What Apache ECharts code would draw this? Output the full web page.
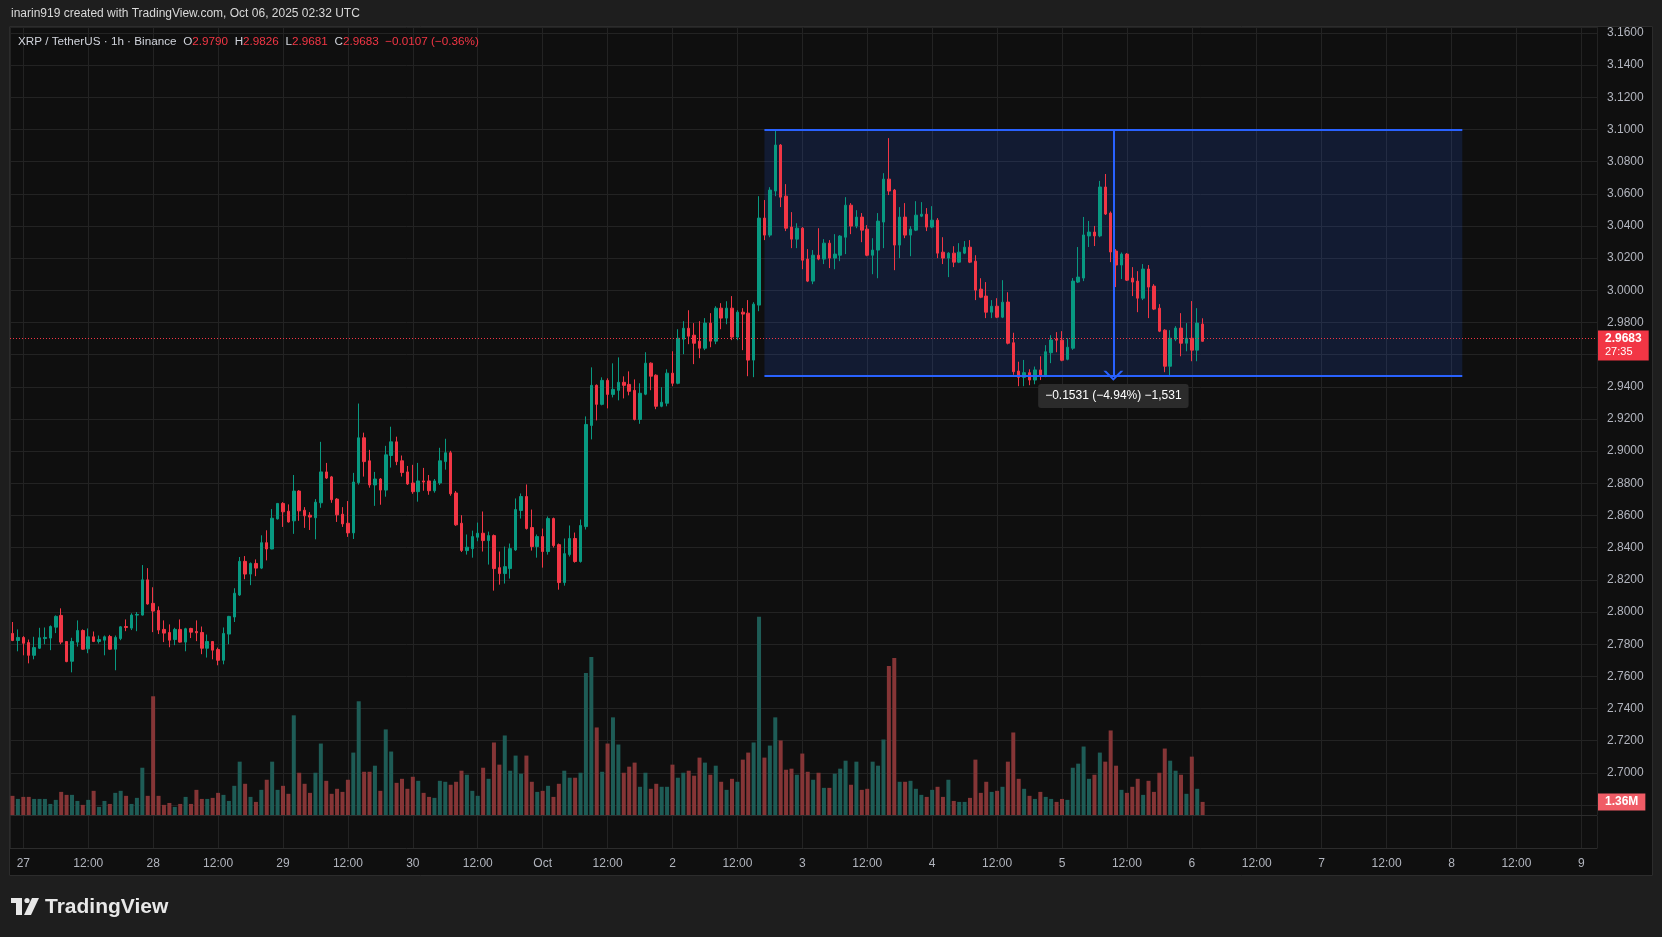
<!DOCTYPE html>
<html>
<head>
<meta charset="utf-8">
<script src="https://cdn.jsdelivr.net/npm/echarts@6/dist/echarts.min.js"></script>
<style>
html,body{margin:0;padding:0;background:#1e1e1e;}
#chart{width:1662px;height:937px;}
</style>
</head>
<body>
<div id="chart"></div>
<script>
// ---------- DATA (XRP/USDT 1h, Binance) ----------
// hour index 0 = Sep 27 00:00 UTC; first candle is hour -2
const firstHour = -2;
const opens = [
2.7867,2.7823,2.7842,2.7810,2.7731,2.7775,2.7835,2.7838,2.7906,2.7979,2.7817,2.7694,
2.7813,2.7885,2.7771,2.7846,2.7817,2.7825,2.7848,2.7769,2.7835,2.7910,
2.7900,2.7981,2.7981,2.8200,2.8054,2.8010,2.7892,2.7873,2.7829,2.7892,
2.7813,2.7898,2.7879,2.7873,2.7775,2.7817,2.7767,2.7700,2.7863,2.7969,
2.8106,2.8315,2.8236,2.8302,2.8273,2.8431,2.8392,2.8579,2.8675,2.8627,
2.8567,2.8752,2.8633,2.8602,2.8586,2.8679,2.8871,2.8840,2.8702,2.8608,
2.8552,2.8492,2.8804,2.9083,2.8940,2.8790,2.8827,2.8758,2.8973,2.9058,
2.8940,2.8871,2.8802,2.8748,2.8815,2.8815,2.8754,2.8802,2.8935,2.8990,
2.8740,2.8552,2.8382,2.8394,2.8465,2.8490,2.8444,2.8475,2.8276,2.8239,
2.8270,2.8386,2.8631,2.8718,2.8525,2.8407,2.8469,2.8376,2.8581,2.8419,
2.8183,2.8357,2.8457,2.8314,2.8531,2.9160,2.9409,2.9291,2.9440,2.9353,
2.9378,2.9428,2.9415,2.9378,2.9197,2.9354,2.9547,2.9472,2.9279,2.9298,
2.9485,2.9422,2.9696,2.9764,2.9721,2.9684,2.9640,2.9796,2.9684,2.9889,
2.9827,2.9889,2.9709,2.9864,2.9858,2.9566,2.9908,3.0449,3.0343,3.0617,
3.0903,3.0585,3.0393,3.0318,3.0386,3.0194,3.0057,3.0218,3.0194,3.0293,
3.0200,3.0218,3.0330,3.0529,3.0399,3.0455,3.0380,3.0218,3.0250,3.0424,
3.0691,3.0623,3.0281,3.0455,3.0343,3.0374,3.0461,3.0473,3.0393,3.0436,
3.0237,3.0200,3.0231,3.0175,3.0231,3.0268,3.0181,3.0007,2.9964,2.9864,
2.9901,2.9833,2.9927,2.9674,2.9498,2.9459,2.9488,2.9442,2.9505,2.9467,
2.9612,2.9696,2.9690,2.9571,2.9640,3.0051,3.0076,3.0338,3.0362,3.0338,
3.0642,3.0480,3.0244,3.0157,3.0225,3.0076,3.0057,2.9951,3.0132,3.0026,
2.9889,2.9752,2.9528,2.9696,2.9765,2.9671,2.9702,2.9628,2.9790
];
const closes = [
2.7823,2.7842,2.7806,2.7731,2.7779,2.7840,2.7842,2.7910,2.7973,2.7813,2.7692,2.7817,
2.7885,2.7769,2.7846,2.7817,2.7829,2.7846,2.7769,2.7842,2.7908,2.7904,
2.7981,2.7985,2.8200,2.8050,2.8006,2.7888,2.7869,2.7825,2.7892,2.7813,
2.7896,2.7875,2.7871,2.7775,2.7817,2.7763,2.7700,2.7867,2.7973,2.8117,
2.8315,2.8236,2.8302,2.8273,2.8431,2.8392,2.8583,2.8675,2.8623,2.8560,
2.8752,2.8629,2.8598,2.8590,2.8683,2.8871,2.8833,2.8698,2.8604,2.8548,
2.8492,2.8808,2.9083,2.8935,2.8790,2.8827,2.8758,2.8977,2.9058,2.8935,
2.8867,2.8796,2.8748,2.8815,2.8808,2.8754,2.8815,2.8940,2.8990,2.8735,
2.8542,2.8383,2.8403,2.8469,2.8490,2.8444,2.8475,2.8270,2.8239,2.8282,
2.8394,2.8637,2.8718,2.8519,2.8407,2.8469,2.8376,2.8581,2.8413,2.8183,
2.8363,2.8457,2.8314,2.8538,2.9166,2.9409,2.9291,2.9440,2.9353,2.9384,
2.9428,2.9409,2.9372,2.9197,2.9360,2.9547,2.9466,2.9279,2.9304,2.9485,
2.9422,2.9702,2.9764,2.9715,2.9671,2.9640,2.9796,2.9684,2.9889,2.9827,
2.9889,2.9709,2.9864,2.9852,2.9566,2.9914,3.0449,3.0343,3.0623,3.0903,
3.0579,3.0386,3.0318,3.0386,3.0187,3.0057,3.0218,3.0194,3.0293,3.0200,
3.0225,3.0337,3.0529,3.0399,3.0455,3.0374,3.0218,3.0250,3.0430,3.0691,
3.0617,3.0281,3.0455,3.0343,3.0380,3.0467,3.0473,3.0393,3.0436,3.0231,
3.0200,3.0231,3.0175,3.0237,3.0268,3.0175,3.0001,2.9957,2.9864,2.9901,
2.9833,2.9926,2.9671,2.9494,2.9459,2.9488,2.9442,2.9505,2.9467,2.9618,
2.9691,2.9690,2.9565,2.9646,3.0057,3.0082,3.0344,3.0362,3.0338,3.0642,
3.0474,3.0238,3.0157,3.0225,3.0063,3.0051,2.9951,3.0132,3.0020,2.9883,
2.9746,2.9528,2.9702,2.9765,2.9671,2.9702,2.9628,2.9796,2.9683
];
const lows = [
2.7819,2.7756,2.7731,2.7681,2.7706,2.7770,2.7800,2.7763,2.7869,2.7800,2.7688,2.7625,
2.7785,2.7765,2.7744,2.7813,2.7804,2.7731,2.7765,2.7638,2.7825,2.7881,
2.7888,2.7881,2.7978,2.8046,2.7875,2.7863,2.7813,2.7781,2.7794,2.7810,
2.7756,2.7838,2.7819,2.7738,2.7717,2.7706,2.7669,2.7675,2.7800,2.7938,
2.8100,2.8204,2.8167,2.8223,2.8267,2.8321,2.8390,2.8575,2.8529,2.8556,
2.8486,2.8567,2.8523,2.8510,2.8452,2.8648,2.8827,2.8679,2.8560,2.8529,
2.8467,2.8454,2.8792,2.8842,2.8773,2.8660,2.8667,2.8717,2.8898,2.8913,
2.8842,2.8790,2.8735,2.8686,2.8754,2.8729,2.8742,2.8790,2.8885,2.8723,
2.8536,2.8373,2.8357,2.8338,2.8440,2.8376,2.8295,2.8133,2.8170,2.8177,
2.8208,2.8380,2.8581,2.8513,2.8382,2.8338,2.8276,2.8357,2.8401,2.8139,
2.8164,2.8345,2.8307,2.8307,2.8513,2.9073,2.9191,2.9285,2.9266,2.9334,
2.9316,2.9328,2.9347,2.9191,2.9170,2.9348,2.9379,2.9261,2.9273,2.9279,
2.9404,2.9416,2.9603,2.9665,2.9541,2.9578,2.9628,2.9646,2.9665,2.9758,
2.9789,2.9690,2.9690,2.9628,2.9466,2.9460,2.9870,3.0312,3.0330,3.0585,
3.0517,3.0368,3.0262,3.0262,3.0131,3.0051,3.0038,3.0187,3.0163,3.0138,
3.0131,3.0181,3.0225,3.0349,3.0386,3.0299,3.0212,3.0100,3.0075,3.0262,
3.0592,3.0125,3.0200,3.0324,3.0212,3.0368,3.0455,3.0368,3.0386,3.0200,
3.0163,3.0082,3.0144,3.0169,3.0225,3.0169,2.9939,2.9951,2.9827,2.9827,
2.9827,2.9827,2.9664,2.9475,2.9404,2.9404,2.9410,2.9416,2.9442,2.9460,
2.9547,2.9615,2.9559,2.9565,2.9630,3.0045,3.0057,3.0269,3.0275,3.0330,
3.0468,3.0175,3.0020,3.0070,3.0058,2.9964,2.9864,2.9939,2.9827,2.9877,
2.9740,2.9491,2.9472,2.9684,2.9590,2.9621,2.9559,2.9559,2.9681
];
const highs = [
2.7938,2.7892,2.7850,2.7829,2.7846,2.7902,2.7904,2.7917,2.7979,2.8023,2.7820,2.7840,
2.7948,2.7892,2.7898,2.7879,2.7854,2.7854,2.7858,2.7854,2.7913,2.7954,
2.7992,2.8000,2.8292,2.8273,2.8154,2.8035,2.7948,2.7923,2.7902,2.7954,
2.7902,2.7902,2.7948,2.7910,2.7860,2.7820,2.7779,2.7904,2.7976,2.8148,
2.8342,2.8348,2.8308,2.8327,2.8477,2.8508,2.8640,2.8678,2.8683,2.8669,
2.8852,2.8758,2.8652,2.8621,2.8702,2.9058,2.8927,2.8846,2.8708,2.8652,
2.8690,2.8865,2.9296,2.9115,2.9008,2.8871,2.8833,2.9033,2.9152,2.9090,
2.8973,2.8908,2.8915,2.8927,2.8896,2.8852,2.8827,2.9021,2.9077,2.9002,
2.8752,2.8602,2.8482,2.8506,2.8556,2.8625,2.8500,2.8482,2.8376,2.8407,
2.8426,2.8706,2.8737,2.8793,2.8637,2.8482,2.8519,2.8594,2.8587,2.8426,
2.8457,2.8538,2.8494,2.8575,2.9216,2.9521,2.9415,2.9459,2.9453,2.9546,
2.9583,2.9465,2.9496,2.9446,2.9422,2.9615,2.9552,2.9478,2.9398,2.9509,
2.9621,2.9758,2.9808,2.9876,2.9796,2.9808,2.9827,2.9858,2.9901,2.9920,
2.9932,2.9964,2.9876,2.9889,2.9939,2.9926,3.0585,3.0561,3.0641,3.0996,
3.0909,3.0660,3.0486,3.0417,3.0393,3.0256,3.0250,3.0386,3.0318,3.0312,
3.0349,3.0343,3.0579,3.0542,3.0498,3.0480,3.0405,3.0324,3.0480,3.0728,
3.0946,3.0630,3.0517,3.0542,3.0399,3.0554,3.0548,3.0511,3.0523,3.0449,
3.0330,3.0237,3.0274,3.0293,3.0306,3.0312,3.0218,3.0075,3.0051,2.9939,
2.9951,3.0063,2.9988,2.9736,2.9556,2.9567,2.9509,2.9526,2.9590,2.9659,
2.9721,2.9740,2.9746,2.9702,3.0076,3.0269,3.0456,3.0431,3.0400,3.0680,
3.0723,3.0490,3.0256,3.0235,3.0232,3.0144,3.0119,3.0163,3.0157,3.0038,
2.9914,2.9758,2.9752,2.9777,2.9858,2.9796,2.9933,2.9889,2.9826
];
// volume in millions of XRP
const volumesM = [
1.99,1.67,1.88,1.88,1.67,1.67,1.67,1.15,1.57,2.40,2.09,2.09,
1.46,1.05,1.57,2.51,0.84,1.46,1.15,2.30,2.51,1.99,
1.15,1.78,4.91,1.99,12.33,1.99,1.05,1.25,0.84,1.15,
1.88,1.15,2.61,1.67,1.67,1.78,2.30,2.09,1.46,3.03,
5.54,3.24,1.88,1.36,2.61,3.66,5.54,2.61,3.03,2.20,
10.35,4.39,3.24,2.30,4.39,7.42,3.55,2.20,2.72,2.40,
3.66,6.48,11.81,4.49,4.49,5.12,2.51,8.89,6.59,3.34,
3.76,2.72,3.97,3.55,2.30,1.88,1.78,3.55,3.45,3.14,
3.45,4.60,4.18,2.51,1.99,4.91,3.76,7.53,5.23,8.26,
4.60,6.17,4.29,6.17,3.45,2.40,2.51,3.03,1.88,3.24,
4.60,3.87,3.87,4.39,14.74,16.41,9.09,4.49,7.42,10.14,
7.32,4.39,5.02,5.44,2.93,4.39,2.72,3.24,2.93,2.93,
5.23,3.87,4.39,4.60,4.08,5.96,5.44,4.18,5.12,3.45,
2.61,3.76,3.45,5.75,6.48,7.53,20.59,5.96,7.21,10.14,
7.74,4.70,4.81,4.18,6.38,4.49,3.66,4.39,2.82,2.82,
4.29,4.81,5.64,3.14,5.54,2.61,2.72,5.54,5.12,7.84,
15.47,16.31,3.45,3.45,3.55,2.72,2.09,1.88,2.61,2.93,
1.88,3.66,1.46,1.36,1.36,1.78,5.75,2.30,3.45,2.40,
2.51,2.93,5.54,8.57,3.76,2.72,1.99,1.67,2.40,1.88,
1.67,1.36,1.67,1.57,4.91,5.33,7.11,3.76,4.18,6.48,
5.54,8.78,5.12,2.61,2.30,2.93,3.76,2.09,3.55,2.40,
4.39,6.90,5.64,4.60,4.18,2.20,6.06,2.72,1.36
];
const dayLabels = ['27','28','29','30','Oct','2','3','4','5','6','7','8','9'];
const halfDayLabel = '12:00';
const lowestPriceLabel = 2.70;
const countdown = '27:35';
const headerText = 'inarin919 created with TradingView.com, Oct 06, 2025 02:32 UTC';
const symbolText = 'XRP / TetherUS \u00b7 1h \u00b7 Binance';
const changeText = '\u22120.0107 (\u22120.36%)';
// price range drawing
const rangeTop = 3.1000;
const rangeBottom = 2.9469;
const rangeStartHour = 137;
const rangeEndHour = 266;
const rangeArrowHour = 201.5;
const rangeLabelPrice = 2.9343;
const rangeLabel = '\u22120.1531 (\u22124.94%) \u22121,531';

// ---------- BUILD ----------
const FONT = "'Liberation Sans', Arial, sans-serif";
const UP = '#089981', DOWN = '#f23645';
const UP_VOL = '#1e5c56', DOWN_VOL = '#853536';
const GRIDLINE = '#232323';
const BLUE = '#2962ff';
const n = opens.length;
const last = n - 1;
const candleData = opens.map((o, i) => [firstHour + i, o, closes[i], lows[i], highs[i]]);
const volumeData = volumesM.map((v, i) => ({
  value: [firstHour + i, v],
  itemStyle: { color: closes[i] >= opens[i] ? UP_VOL : DOWN_VOL }
}));
const lastUp = closes[last] >= opens[last];

const X_MIN = -2.46, X_MAX = 290.9;
const P_MIN = 2.67383, P_MAX = 3.16367;
const VOL_MAX = 81.83;

function timeLabel(v) {
  const r = Math.round(v);
  if (Math.abs(v - r) > 1e-6) return '';
  if (r % 24 === 0) return dayLabels[Math.round(r / 24)] || '';
  if (r % 12 === 0) return halfDayLabel;
  return '';
}
function priceLabel(v) {
  const r = Math.round(v / 0.02) * 0.02;
  if (Math.abs(v - r) > 1e-6) return '';
  if (r < lowestPriceLabel - 1e-6) return '';
  return r.toFixed(4);
}
const blueLine = { color: BLUE, width: 2, type: 'solid' };
const chevron = 'path://M0,10 L10,0 L20,10 L17.2,10 L10,2.8 L2.8,10 Z';

const option = {
  backgroundColor: '#0f0f0f',
  animation: false,
  textStyle: { fontFamily: FONT },
  grid: [
    { left: 10, right: 65, top: 27, bottom: 122, outerBoundsMode: 'none', containLabel: false },
    { left: 10, right: 65, top: 816, bottom: 89, outerBoundsMode: 'none', containLabel: false }
  ],
  xAxis: [
    { gridIndex: 0, type: 'value', min: X_MIN, max: X_MAX, minInterval: 12, maxInterval: 12,
      axisLine: { show: true, onZero: false, lineStyle: { color: '#2c2c2c', width: 1 } },
      axisTick: { show: false }, axisLabel: { show: false },
      splitLine: { show: true, lineStyle: { color: GRIDLINE, width: 1 } } },
    { gridIndex: 1, type: 'value', min: X_MIN, max: X_MAX, minInterval: 12, maxInterval: 12,
      axisLine: { show: true, onZero: false, lineStyle: { color: '#2c2c2c', width: 1 } },
      axisTick: { show: false },
      axisLabel: { show: true, formatter: timeLabel, color: '#b2b5be', fontSize: 12, margin: 10, fontFamily: FONT,
                   showMinLabel: true, showMaxLabel: true },
      splitLine: { show: true, lineStyle: { color: GRIDLINE, width: 1 } } }
  ],
  yAxis: [
    { gridIndex: 0, type: 'value', position: 'right', min: P_MIN, max: P_MAX, scale: true,
      minInterval: 0.02, maxInterval: 0.02, splitNumber: 25,
      axisLine: { show: false }, axisTick: { show: false },
      axisLabel: { show: true, formatter: priceLabel, color: '#b2b5be', fontSize: 12, margin: 10, fontFamily: FONT },
      splitLine: { show: true, lineStyle: { color: GRIDLINE, width: 1 } } },
    { gridIndex: 0, type: 'value', min: 0, max: VOL_MAX, show: false, splitLine: { show: false } },
    { gridIndex: 1, type: 'value', min: 0, max: 1, show: false, splitLine: { show: false } }
  ],
  series: [
    {
      type: 'bar', name: 'Volume', xAxisIndex: 0, yAxisIndex: 1, data: volumeData,
      barWidth: 4, silent: true, z: 1,
      markLine: {
        silent: true, animation: false, symbol: ['none', 'none'],
        data: [{
          yAxis: volumesM[last],
          lineStyle: { color: 'rgba(0,0,0,0)', width: 0 },
          label: { show: true, position: 'end', distance: 1, formatter: volumesM[last].toFixed(2) + 'M',
                   backgroundColor: lastUp ? '#22ab94' : '#f05c66', color: '#ffffff', fontSize: 12, fontWeight: 'bold',
                   padding: [2, 7, 2, 7], lineHeight: 13, fontFamily: FONT, opacity: 1 }
        }]
      }
    },
    {
      type: 'candlestick', name: 'XRPUSDT', xAxisIndex: 0, yAxisIndex: 0, data: candleData,
      encode: { x: 0, y: [1, 2, 3, 4] },
      barWidth: 3, silent: true, z: 3,
      itemStyle: { color: UP, color0: DOWN, borderColor: UP, borderColor0: DOWN, borderWidth: 1 },
      markArea: {
        silent: true,
        itemStyle: { color: 'rgba(41, 98, 255, 0.15)' },
        data: [[ { coord: [rangeStartHour, rangeTop] }, { coord: [rangeEndHour, rangeBottom] } ]]
      },
      markLine: {
        silent: true, animation: false, symbol: ['none', 'none'],
        label: { show: false },
        data: [
          {
            yAxis: closes[last],
            lineStyle: { color: DOWN, type: [1, 2], width: 1 },
            label: {
              show: true, position: 'end', distance: 1, offset: [0, 7],
              formatter: '{a|' + closes[last].toFixed(4) + '}\n{b|' + countdown + '}',
              backgroundColor: DOWN, padding: [2, 7, 2, 7],
              rich: {
                a: { color: '#ffffff', fontSize: 12, fontWeight: 'bold', lineHeight: 13, fontFamily: FONT },
                b: { color: '#ffffff', fontSize: 11, lineHeight: 13, fontFamily: FONT }
              }
            }
          },
          [ { coord: [rangeStartHour, rangeTop], lineStyle: blueLine }, { coord: [rangeEndHour, rangeTop] } ],
          [ { coord: [rangeStartHour, rangeBottom], lineStyle: blueLine }, { coord: [rangeEndHour, rangeBottom] } ],
          [ { coord: [rangeArrowHour, rangeTop], lineStyle: blueLine, itemStyle: { color: BLUE } },
            { coord: [rangeArrowHour, rangeBottom], symbol: chevron, symbolSize: [20, 10], itemStyle: { color: BLUE } } ]
        ]
      },
      markPoint: {
        silent: true, animation: false,
        data: [{
          coord: [rangeArrowHour, rangeLabelPrice],
          symbol: 'rect', symbolSize: 1,
          itemStyle: { color: 'rgba(0,0,0,0)' },
          label: { show: true, position: 'inside', formatter: rangeLabel, color: '#ffffff', fontSize: 12, fontFamily: FONT,
                   backgroundColor: '#2b2b2b', borderRadius: 3, padding: [6, 7, 6, 7] }
        }]
      }
    }
  ],
  graphic: [
    { type: 'rect', silent: true, z: 50, shape: { x: 0, y: 0, width: 1662, height: 26 }, style: { fill: '#1e1e1e' } },
    { type: 'rect', silent: true, z: 50, shape: { x: 0, y: 876, width: 1662, height: 61 }, style: { fill: '#1e1e1e' } },
    { type: 'rect', silent: true, z: 50, shape: { x: 0, y: 0, width: 9, height: 937 }, style: { fill: '#1e1e1e' } },
    { type: 'rect', silent: true, z: 50, shape: { x: 1653, y: 0, width: 9, height: 937 }, style: { fill: '#1e1e1e' } },
    { type: 'rect', silent: true, z: 51, shape: { x: 9.5, y: 26.5, width: 1643, height: 849 },
      style: { fill: 'none', stroke: '#2c2c2c', lineWidth: 1 } },
    { type: 'text', silent: true, z: 60, x: 11, y: 14,
      style: { text: headerText, fill: '#d9d9d9', font: '12px ' + FONT, verticalAlign: 'middle', textVerticalAlign: 'middle' } },
    { type: 'text', silent: true, z: 60, x: 18, y: 42,
      style: {
        text: '{t|' + symbolText + '}  {k|O}{v|' + opens[last].toFixed(4) + '}  {k|H}{v|' + highs[last].toFixed(4) +
              '}  {k|L}{v|' + lows[last].toFixed(4) + '}  {k|C}{v|' + closes[last].toFixed(4) + '}  {v|' + changeText + '}',
        verticalAlign: 'middle', textVerticalAlign: 'middle',
        rich: {
          t: { fill: '#d1d4dc', fontSize: 11.7, fontFamily: FONT },
          k: { fill: '#d1d4dc', fontSize: 11.7, fontFamily: FONT },
          v: { fill: DOWN, fontSize: 11.7, fontFamily: FONT }
        }
      } },
    // TradingView logo mark
    { type: 'rect', silent: true, z: 60, shape: { x: 11, y: 898, width: 11, height: 5 }, style: { fill: '#e8e8e8' } },
    { type: 'rect', silent: true, z: 60, shape: { x: 16, y: 898, width: 6, height: 17 }, style: { fill: '#e8e8e8' } },
    { type: 'circle', silent: true, z: 60, shape: { cx: 27, cy: 900.5, r: 2.6 }, style: { fill: '#e8e8e8' } },
    { type: 'polygon', silent: true, z: 60, shape: { points: [[32, 898], [39, 898], [31, 915], [24, 915]] }, style: { fill: '#e8e8e8' } },
    { type: 'text', silent: true, z: 60, x: 45, y: 907,
      style: { text: 'TradingView', fill: '#e8e8e8', font: 'bold 21px ' + FONT, verticalAlign: 'middle', textVerticalAlign: 'middle' } }
  ]
};

const chart = echarts.init(document.getElementById('chart'), null, { renderer: 'canvas', width: 1662, height: 937 });
chart.setOption(option);
</script>
</body>
</html>
